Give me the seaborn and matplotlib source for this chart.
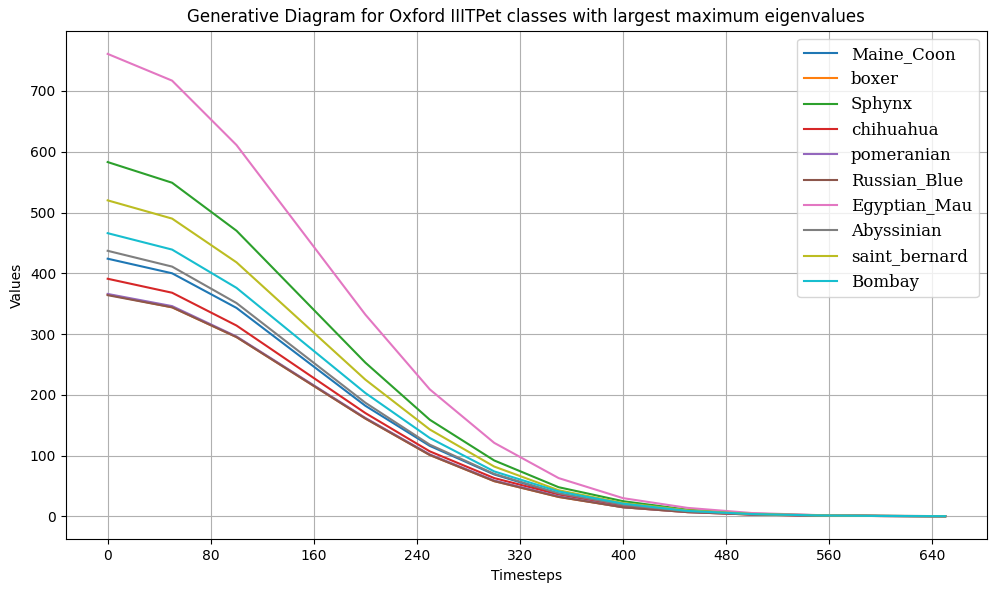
import pandas as pd
import numpy as np
import seaborn as sns
import matplotlib.pyplot as plt

# Timesteps sampled for each class
timesteps = [0, 50, 100, 200, 250, 300, 350, 400, 450, 500, 550, 600, 650]

# Largest eigenvalue per timestep
maine_coon = [424, 400, 343, 182, 116, 69, 37, 18, 8, 3.5, 1.5, 0.7, 0.3]
boxer = [365, 344, 295, 161, 101, 58, 32, 15, 7, 3, 1.3, 0.6, 0.3]
sphynx = [583, 549, 470, 253, 159, 92, 48, 25, 11, 4.5, 2, 0.9, 0.4]
chihuahua = [391, 368, 314, 170, 107, 63, 36, 18, 8, 3.2, 1.4, 0.6, 0.3]
pomeranian = [366, 346, 296, 162, 102, 59, 33, 15, 7, 3, 1.3, 0.6, 0.3]
russian_blue = [364, 344, 295, 161, 101, 58, 32, 15, 7, 3, 1.3, 0.6, 0.3]
egyptian_mau = [761, 717, 611, 332, 209, 121, 63, 30, 14, 5.5, 2.2, 1, 0.4]
abyssinian = [437, 411, 351, 187, 118, 70, 38, 19, 8.5, 3.6, 1.5, 0.7, 0.3]
saint_bernard = [520, 490, 418, 225, 143, 82, 43, 22, 10, 4, 1.7, 0.8, 0.3]
bombay = [466, 439, 376, 203, 129, 74, 41, 21, 9, 3.8, 1.6, 0.7, 0.3]

class_names = ['Maine_Coon', 'boxer', 'Sphynx', 'chihuahua', 'pomeranian',
               'Russian_Blue', 'Egyptian_Mau', 'Abyssinian', 'saint_bernard', 'Bombay']
series = [maine_coon, boxer, sphynx, chihuahua, pomeranian,
          russian_blue, egyptian_mau, abyssinian, saint_bernard, bombay]

# Long format frame for seaborn
rows = []
for name, vals in zip(class_names, series):
    for t, v in zip(timesteps, vals):
        rows.append({'Timesteps': t, 'Values': v, 'class': name})
df = pd.DataFrame(rows)

fig, ax = plt.subplots(figsize=(9.97, 5.92), dpi=100)
sns.lineplot(data=df, x='Timesteps', y='Values', hue='class', hue_order=class_names,
             palette='tab10', linewidth=1.5, ax=ax)

ax.set_xticks(np.arange(0, 641, 80))
ax.grid(True)
ax.set_title('Generative Diagram for Oxford IIITPet classes with largest maximum eigenvalues')
ax.set_xlabel('Timesteps')
ax.set_ylabel('Values')
ax.legend(loc='upper right', prop={'family': 'DejaVu Serif', 'size': 12})

fig.subplots_adjust(left=0.066, right=0.99, top=0.948, bottom=0.089)
plt.savefig('out.png', dpi=100)
